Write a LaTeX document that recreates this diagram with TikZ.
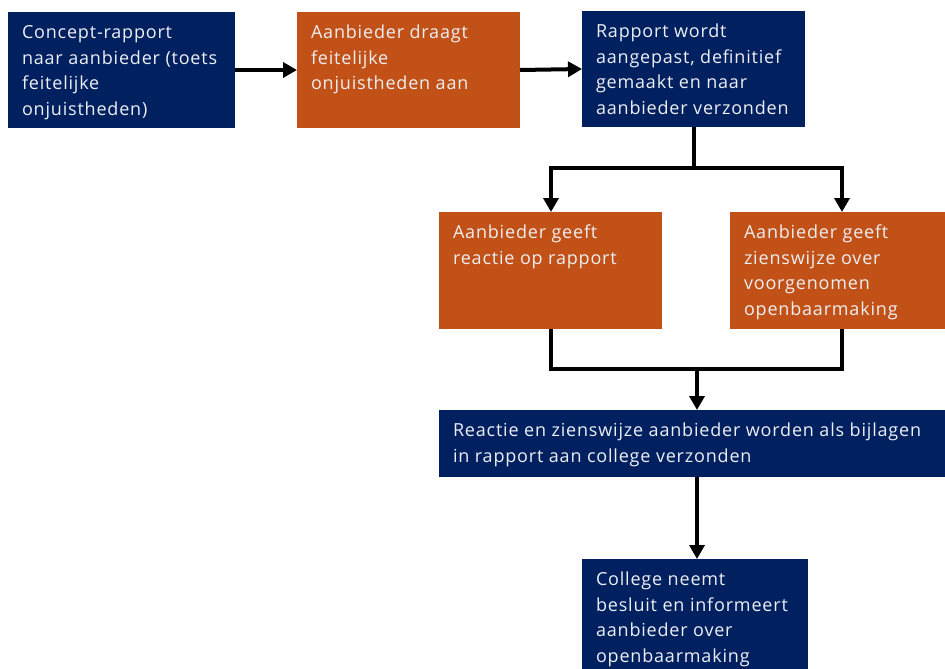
\documentclass[tikz,border=0pt]{standalone}
\usepackage{fontspec}
\setmainfont{Open Sans}[LetterSpace=4.5]
\usetikzlibrary{arrows.meta}
\definecolor{navy}{RGB}{0,32,96}
\definecolor{rust}{RGB}{193,81,22}
\definecolor{paper}{RGB}{238,239,243}
\begin{document}
\begin{tikzpicture}[x=1pt,y=-1pt,
  box/.style={inner sep=0pt, outer sep=0pt, anchor=north west, draw=none},
  navybox/.style={box, fill=navy},
  rustbox/.style={box, fill=rust},
  txt/.style={inner sep=0pt, outer sep=0pt, anchor=north west, align=left, text=paper,
              font=\fontsize{18}{25.5}\selectfont},
  conn/.style={line width=4pt, line join=miter, draw=black},
  arr/.style={conn, -{Triangle[length=14pt,width=15pt]}}]
\useasboundingbox (0,0) rectangle (945,669);

% boxes
\node[navybox, minimum width=227pt, minimum height=116pt] (b1) at (8,12) {};
\node[rustbox, minimum width=223pt, minimum height=116pt] (b2) at (297,12) {};
\node[navybox, minimum width=223pt, minimum height=116pt] (b3) at (582,11) {};
\node[rustbox, minimum width=223pt, minimum height=117pt] (b4) at (439,212) {};
\node[rustbox, minimum width=215pt, minimum height=117pt] (b5) at (730,212) {};
\node[navybox, minimum width=506pt, minimum height=67pt] (b6) at (439,410) {};
\node[navybox, minimum width=226pt, minimum height=110pt] (b7) at (582,559) {};

% texts
\node[txt] (t1) at ([xshift=14pt]b1.north west) {\rule{0pt}{26.5pt}Concept-rapport\\naar aanbieder (toets\\feitelijke\\onjuistheden)};
\node[txt] (t2) at ([xshift=14pt]b2.north west) {\rule{0pt}{26.5pt}Aanbieder draagt\\feitelijke\\onjuistheden aan};
\node[txt] (t3) at ([xshift=14pt]b3.north west) {\rule{0pt}{26.5pt}Rapport wordt\\aangepast, definitief\\gemaakt en naar\\aanbieder verzonden};
\node[txt] (t4) at ([xshift=14pt]b4.north west) {\rule{0pt}{26.5pt}Aanbieder geeft\\reactie op rapport};
\node[txt] (t5) at ([xshift=14pt]b5.north west) {\rule{0pt}{26.5pt}Aanbieder geeft\\zienswijze over\\voorgenomen\\openbaarmaking};
\node[txt] (t6) at ([xshift=14pt]b6.north west) {\rule{0pt}{26.5pt}Reactie en zienswijze aanbieder worden als bijlagen\\in rapport aan college verzonden};
\node[txt] (t7) at ([xshift=14pt]b7.north west) {\rule{0pt}{26.5pt}College neemt\\besluit en informeert\\aanbieder over\\openbaarmaking};

% connectors
\draw[arr] (b1.east) -- (b2.west);
\draw[arr] (b2.east) -- (b3.west);

\coordinate (j1) at (693.5,168);
\coordinate (l4) at (551,168);
\coordinate (r5) at (842,168);
\draw[conn] (b3.south) -- (j1);
\draw[arr] (j1) -- (l4) -- (l4 |- b4.north);
\draw[arr] (j1) -- (r5) -- (r5 |- b5.north);

\coordinate (l6) at (551,369);
\coordinate (r6) at (842,369);
\coordinate (m6) at (697,369);
\draw[conn] (l6 |- b4.south) -- (l6) -- (r6) -- (r6 |- b5.south);
\draw[arr] (m6) -- (m6 |- b6.north);

\coordinate (m7) at (697,520);
\draw[arr] (m7 |- b6.south) -- (m7 |- b7.north);
\end{tikzpicture}
\end{document}
